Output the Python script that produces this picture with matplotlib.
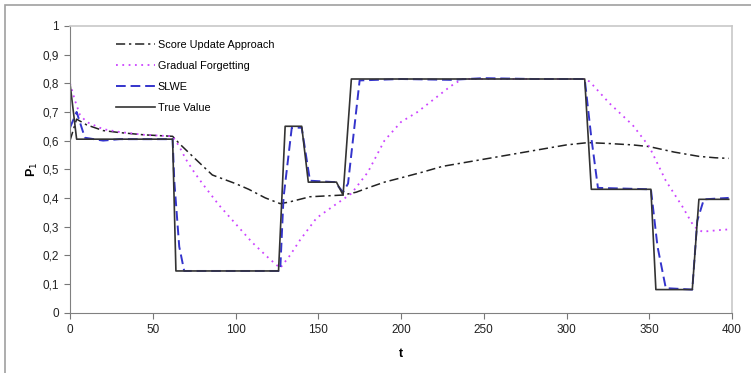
import matplotlib.pyplot as plt
from matplotlib.patches import Rectangle

plt.rcParams['font.family'] = ['Liberation Sans', 'DejaVu Sans']

# true probability of the tracked event over time
true_t = [0, 4, 62, 64, 126, 130, 140, 144, 161, 165, 170, 311, 315, 351, 354, 376, 380, 398]
true_v = [0.80, 0.605, 0.605, 0.145, 0.145, 0.65, 0.65, 0.455, 0.455, 0.41, 0.815,
          0.815, 0.43, 0.43, 0.08, 0.08, 0.395, 0.395]

# SLWE estimate
slwe_t = [0, 4, 9, 20, 30, 62, 63, 66, 69, 127, 129, 134, 140, 145, 160, 165, 168, 175,
          200, 230, 250, 280, 311, 315, 319, 351, 355, 360, 376, 379, 383, 398]
slwe_v = [0.645, 0.70, 0.61, 0.60, 0.605, 0.605, 0.46, 0.23, 0.145, 0.145, 0.40, 0.645,
          0.645, 0.46, 0.455, 0.42, 0.45, 0.81, 0.815, 0.812, 0.818, 0.815, 0.815, 0.61,
          0.435, 0.43, 0.23, 0.085, 0.08, 0.32, 0.395, 0.40]

# score update approach estimate
score_t = [0, 4, 10, 20, 30, 45, 62, 66, 75, 86, 100, 108, 118, 127, 132, 145, 165, 173,
           180, 190, 200, 213, 225, 240, 260, 280, 300, 313, 325, 340, 350, 365, 380, 390, 398]
score_v = [0.60, 0.675, 0.655, 0.635, 0.628, 0.62, 0.615, 0.59, 0.54, 0.48, 0.45, 0.43,
           0.40, 0.38, 0.385, 0.404, 0.41, 0.42, 0.435, 0.455, 0.47, 0.49, 0.51, 0.525,
           0.545, 0.565, 0.585, 0.593, 0.59, 0.585, 0.579, 0.56, 0.545, 0.54, 0.538]

# gradual forgetting estimate
grad_t = [0, 3, 6, 10, 20, 30, 45, 62, 66, 70, 75, 80, 90, 100, 110, 120, 127, 133, 139,
          149, 160, 170, 180, 190, 200, 210, 220, 230, 237, 311, 314, 326, 340, 350, 360,
          370, 377, 382, 393, 398]
grad_v = [0.80, 0.74, 0.69, 0.665, 0.64, 0.63, 0.62, 0.615, 0.58, 0.535, 0.49, 0.45,
          0.375, 0.31, 0.245, 0.19, 0.155, 0.20, 0.253, 0.33, 0.375, 0.415, 0.49, 0.60,
          0.665, 0.70, 0.745, 0.79, 0.815, 0.815, 0.806, 0.73, 0.654, 0.579, 0.46, 0.37,
          0.30, 0.282, 0.288, 0.29]

x_ticks = [0, 50, 100, 150, 200, 250, 300, 350, 400]
y_ticks = [0, 0.1, 0.2, 0.3, 0.4, 0.5, 0.6, 0.7, 0.8, 0.9, 1.0]

fig = plt.figure(figsize=(7.51, 3.73), dpi=100)
ax = fig.add_axes([70 / 751, 60.5 / 373, 662 / 751, 286.5 / 373])

ax.plot(score_t, score_v, color='#222222', lw=1.1, dashes=(6, 2.5, 1.5, 2.5),
        label='Score Update Approach')
ax.plot(grad_t, grad_v, color='#cc44ff', lw=1.3, dashes=(1, 2.5),
        label='Gradual Forgetting')
ax.plot(slwe_t, slwe_v, color='#3434cc', lw=1.4, dashes=(5, 2.5), label='SLWE')
ax.plot(true_t, true_v, color='#333333', lw=1.2, label='True Value')

ax.set_xlim(0, 400)
ax.set_ylim(0, 1)
ax.set_xticks(x_ticks)
ax.set_yticks(y_ticks)
ax.set_yticklabels([f'{v:g}'.replace('.', ',') for v in y_ticks])
ax.tick_params(direction='out', length=4, width=0.8, color='#777777',
               labelsize=8.5, labelcolor='#222222', pad=4)

for side in ['left', 'bottom']:
    ax.spines[side].set_color('#808080')
for side in ['top', 'right']:
    ax.spines[side].set_color('#c8c8c8')
    ax.spines[side].set_linewidth(1.2)

ax.set_xlabel('t', fontsize=9, fontweight='bold', labelpad=9)
ax.set_ylabel('P$_1$', fontsize=9, fontweight='bold', labelpad=2)

ax.legend(loc='upper left', bbox_to_anchor=(0.055, 0.985), frameon=False,
          fontsize=7.8, handlelength=3.6, handletextpad=0.25, labelspacing=1.02)

# frame around the whole chart
fig.patches.append(Rectangle((5 / 751, -0.05), 1.1, 1 - 5 / 373 + 0.05,
                             transform=fig.transFigure, fill=False,
                             edgecolor='#a0a0a0', lw=1.2))

fig.savefig('out.png', dpi=100)
